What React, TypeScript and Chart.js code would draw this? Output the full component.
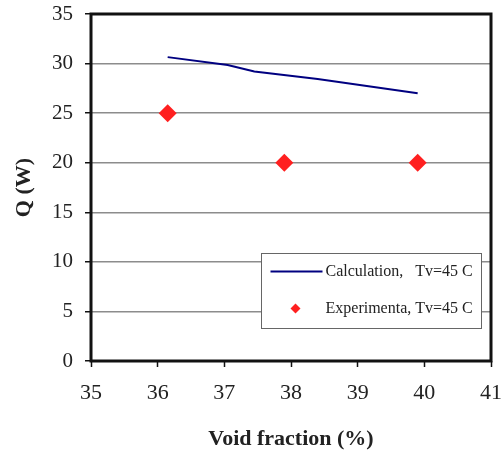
import React, { useEffect, useRef } from "react";
import { Chart, registerables } from "chart.js";

Chart.register(...registerables);

const calcX = [36.15, 37.05, 37.45, 38.4, 39.9];
const calcY = [30.65, 29.85, 29.2, 28.45, 27.0];
const expX = [36.15, 37.9, 39.9];
const expY = [25, 20, 20];
const xTicks = [35, 36, 37, 38, 39, 40, 41];
const yTicks = [0, 5, 10, 15, 20, 25, 30, 35];
const calcLabel = "Calculation,   Tv=45 C";
const expLabel = "Experimenta, Tv=45 C";
const xTitle = "Void fraction (%)";
const yTitle = "Q (W)";

const SERIF = '"Liberation Serif", "Times New Roman", serif';

const framePlugin = {
  id: "frameAndLegend",
  afterDatasetsDraw(chart: any) {
    const { ctx, chartArea } = chart;
    const { left, top, right, bottom } = chartArea;
    ctx.save();
    // plot border
    ctx.strokeStyle = "#111";
    ctx.lineWidth = 3;
    ctx.strokeRect(left, top, right - left, bottom - top);
    // legend
    const lx = left + 170.5;
    const ly = top + 239.5;
    const lw = 220;
    const lh = 75;
    ctx.fillStyle = "#fff";
    ctx.fillRect(lx, ly, lw, lh);
    ctx.strokeStyle = "#666";
    ctx.lineWidth = 1;
    ctx.strokeRect(lx, ly, lw, lh);
    // line sample
    ctx.strokeStyle = "#000080";
    ctx.lineWidth = 2;
    ctx.beginPath();
    ctx.moveTo(lx + 9, ly + 18);
    ctx.lineTo(lx + 61, ly + 18);
    ctx.stroke();
    // diamond sample
    const dx = lx + 34;
    const dy = ly + 55;
    ctx.fillStyle = "#ff2020";
    ctx.beginPath();
    ctx.moveTo(dx, dy - 5);
    ctx.lineTo(dx + 5, dy);
    ctx.lineTo(dx, dy + 5);
    ctx.lineTo(dx - 5, dy);
    ctx.closePath();
    ctx.fill();
    // text
    ctx.fillStyle = "#222";
    ctx.font = `16px ${SERIF}`;
    ctx.textBaseline = "middle";
    ctx.textAlign = "left";
    ctx.fillText(calcLabel, lx + 64, ly + 18);
    ctx.fillText(expLabel, lx + 64, ly + 55);
    ctx.restore();
  },
};

export default function App() {
  const ref = useRef<HTMLCanvasElement | null>(null);
  useEffect(() => {
    if (!ref.current) return;
    const chart = new Chart(ref.current, {
      type: "scatter",
      data: {
        datasets: [
          {
            type: "line",
            label: calcLabel,
            data: calcX.map((x, i) => ({ x, y: calcY[i] })),
            borderColor: "#000080",
            backgroundColor: "#000080",
            borderWidth: 2,
            pointRadius: 0,
            tension: 0,
            fill: false,
          },
          {
            type: "scatter",
            label: expLabel,
            data: expX.map((x, i) => ({ x, y: expY[i] })),
            pointStyle: "rectRot",
            pointRadius: 9,
            pointBackgroundColor: "#ff2020",
            pointBorderColor: "#ff2020",
            pointBorderWidth: 0,
          },
        ] as any,
      },
      options: {
        animation: false,
        responsive: false,
        maintainAspectRatio: false,
        layout: { padding: { top: 14, right: 11, left: 0, bottom: 0 } },
        plugins: {
          legend: { display: false },
          tooltip: { enabled: false },
        },
        scales: {
          x: {
            type: "linear",
            min: 35,
            max: 41,
            afterBuildTicks: (s: any) => {
              s.ticks = xTicks.map((v) => ({ value: v }));
            },
            afterFit: (s: any) => {
              s.height = 94;
              s.paddingLeft = 0;
              s.paddingRight = 0;
            },
            grid: {
              drawOnChartArea: false,
              drawTicks: true,
              tickLength: 6,
              tickColor: "#111",
              tickWidth: 1.5,
            },
            border: { display: false },
            ticks: {
              color: "#222",
              padding: 13,
              font: { family: SERIF, size: 22 },
              maxRotation: 0,
            },
            title: {
              display: true,
              text: xTitle,
              color: "#222",
              font: { family: SERIF, size: 22, weight: "bold" },
              padding: { top: 0, bottom: 2 },
            },
          },
          y: {
            type: "linear",
            min: 0,
            max: 35,
            afterBuildTicks: (s: any) => {
              s.ticks = yTicks.map((v) => ({ value: v }));
            },
            afterFit: (s: any) => {
              s.width = 91;
              s.paddingTop = 0;
              s.paddingBottom = 0;
            },
            grid: {
              drawOnChartArea: true,
              drawTicks: true,
              tickLength: 6,
              color: "#8c8c8c",
              lineWidth: 1.5,
              tickColor: "#111",
              tickWidth: 1.5,
            },
            border: { display: false },
            ticks: {
              color: "#222",
              padding: 12,
              font: { family: SERIF, size: 21 },
            },
            title: {
              display: true,
              text: yTitle,
              color: "#222",
              font: { family: SERIF, size: 22, weight: "bold" },
              padding: { top: 11, bottom: 0 },
            },
          },
        },
      } as any,
      plugins: [framePlugin],
    });
    return () => chart.destroy();
  }, []);
  return (
    <div style={{ position: "fixed", left: 0, top: 0, width: 502, height: 455, background: "#fff" }}>
      <canvas ref={ref} width={502} height={455} style={{ width: 502, height: 455 }} />
    </div>
  );
}
